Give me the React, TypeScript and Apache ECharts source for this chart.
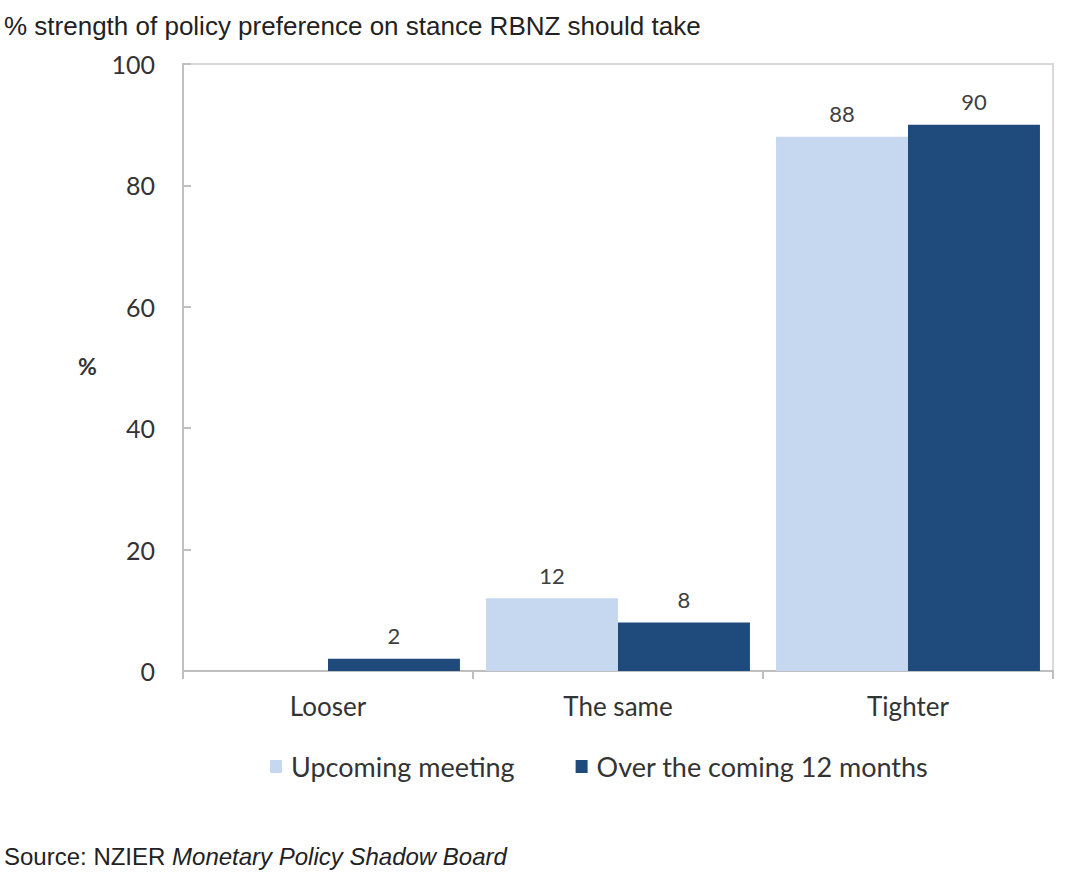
import React, { useEffect, useRef } from "react";
import * as echarts from "echarts";

const categories = ["Looser", "The same", "Tighter"];
const upcoming = [0, 12, 88];
const over12 = [2, 8, 90];
const upcomingLabels = ["", "12", "88"];
const yTicks = [0, 20, 40, 60, 80, 100];

export default function App() {
  const ref = useRef<HTMLDivElement>(null);
  useEffect(() => {
    document.body.style.margin = "0";
    const chart = echarts.init(ref.current!, null, { renderer: "svg" });
    const labelFont = "Lato, 'Open Sans', sans-serif";
    chart.setOption({
      animation: false,
      backgroundColor: "#ffffff",
      grid: {
        left: 183,
        top: 64,
        width: 870,
        height: 607,
        show: true,
        borderColor: "#d9d9d9",
        borderWidth: 2,
        backgroundColor: "transparent",
      },
      graphic: [
        {
          type: "text",
          left: 4,
          top: 13,
          style: {
            text: "% strength of policy preference on stance RBNZ should take",
            font: "26px 'Liberation Sans', Arial, sans-serif",
            fill: "#222222",
          },
        },
        {
          type: "text",
          left: 78,
          top: 354,
          style: {
            text: "%",
            font: "bold 23px " + labelFont,
            fill: "#333333",
          },
        },
        {
          type: "text",
          left: 4,
          top: 844,
          style: {
            rich: {
              n: { font: "24px 'Liberation Sans', Arial, sans-serif", fill: "#222222" },
              i: { font: "italic 24px 'Liberation Sans', Arial, sans-serif", fill: "#222222" },
            },
            text: "{n|Source: NZIER }{i|Monetary Policy Shadow Board}",
          },
        } as any,
      ],
      legend: {
        left: 265,
        top: 748,
        itemWidth: 12,
        itemHeight: 13,
        itemGap: 61,
        icon: "rect",
        textStyle: { fontFamily: labelFont, fontSize: 27, color: "#333333", padding: [0, 0, 0, 4] },
        data: ["Upcoming meeting", "Over the coming 12 months"],
      },
      xAxis: {
        type: "category",
        data: categories,
        axisLine: { lineStyle: { color: "#bfbfbf", width: 2 } },
        axisTick: { show: true, length: 8, lineStyle: { color: "#bfbfbf", width: 2 } },
        axisLabel: { fontFamily: labelFont, fontSize: 26, color: "#333333", margin: 22 },
      },
      yAxis: {
        type: "value",
        min: 0,
        max: 100,
        interval: 20,
        splitLine: { show: false },
        axisLine: { show: true, lineStyle: { color: "#bfbfbf", width: 2 } },
        axisTick: { show: true, inside: true, length: 8, lineStyle: { color: "#bfbfbf", width: 2 } },
        axisLabel: {
          fontFamily: labelFont,
          fontSize: 25,
          color: "#333333",
          margin: 28,
          formatter: (v: number) => (yTicks.includes(v) ? String(v) : ""),
        },
      },
      series: [
        {
          name: "Upcoming meeting",
          type: "bar",
          data: upcoming,
          barGap: "0%",
          barCategoryGap: "9%",
          itemStyle: { color: "#c6d8ef" },
          label: {
            show: true,
            position: "top",
            distance: 12,
            fontFamily: labelFont,
            fontSize: 22,
            color: "#404040",
            formatter: (p: any) => upcomingLabels[p.dataIndex],
          },
        },
        {
          name: "Over the coming 12 months",
          type: "bar",
          data: over12,
          barGap: "0%",
          barCategoryGap: "9%",
          itemStyle: { color: "#1f4a7c" },
          label: {
            show: true,
            position: "top",
            distance: 12,
            fontFamily: labelFont,
            fontSize: 22,
            color: "#404040",
          },
        },
      ],
    });
    return () => chart.dispose();
  }, []);
  return <div ref={ref} style={{ width: 1066, height: 874 }} />;
}
